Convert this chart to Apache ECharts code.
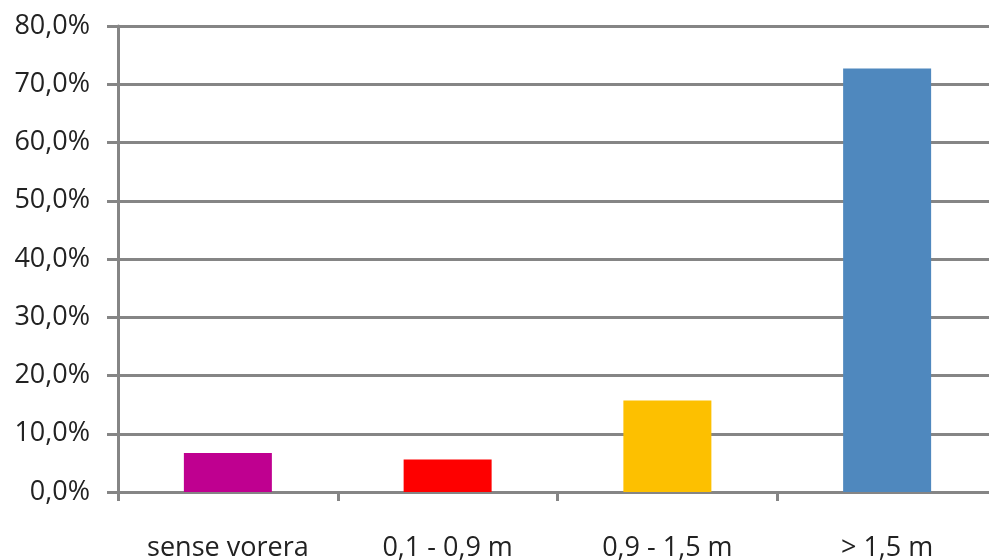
<!DOCTYPE html>
<html>
<head>
<meta charset="utf-8">
<script src="https://cdn.jsdelivr.net/npm/echarts@6/dist/echarts.min.js"></script>
<style>
  html, body { margin: 0; padding: 0; background: #fff; }
  #chart { width: 989px; height: 560px; }
</style>
</head>
<body>
<div id="chart"></div>
<script>
  // categories and values (percent)
  var categories = ['sense vorera', '0,1 - 0,9 m', '0,9 - 1,5 m', '> 1,5 m'];
  var values = [6.7, 5.6, 15.7, 72.7];
  var barColors = ['#bf0090', '#fe0000', '#fdc000', '#4f88be'];

  var chart = echarts.init(document.getElementById('chart'));
  var option = {
    animation: false,
    grid: {
      left: 118,
      right: -8,
      top: 26,
      bottom: 68,
      outerBoundsMode: 'none'
    },
    xAxis: {
      type: 'category',
      data: categories,
      axisLine: { lineStyle: { color: '#858585', width: 3 } },
      axisTick: { show: true, length: 9, lineStyle: { color: '#858585', width: 3 } },
      axisLabel: {
        margin: 43,
        color: '#222',
        fontFamily: 'Open Sans',
        fontSize: 27,
        interval: 0
      }
    },
    yAxis: {
      type: 'value',
      min: 0,
      max: 80,
      interval: 10,
      axisLine: { show: true, lineStyle: { color: '#858585', width: 3 } },
      axisTick: { show: true, length: 11, lineStyle: { color: '#858585', width: 3 } },
      splitLine: { show: true, lineStyle: { color: '#858585', width: 3 } },
      axisLabel: {
        margin: 28,
        color: '#222',
        fontFamily: 'Open Sans',
        fontSize: 27,
        formatter: function (v) { return v.toFixed(1).replace('.', ',') + '%'; }
      }
    },
    series: [{
      type: 'bar',
      barWidth: 88,
      data: values.map(function (v, i) {
        return { value: v, itemStyle: { color: barColors[i] } };
      })
    }]
  };
  chart.setOption(option);
</script>
</body>
</html>
